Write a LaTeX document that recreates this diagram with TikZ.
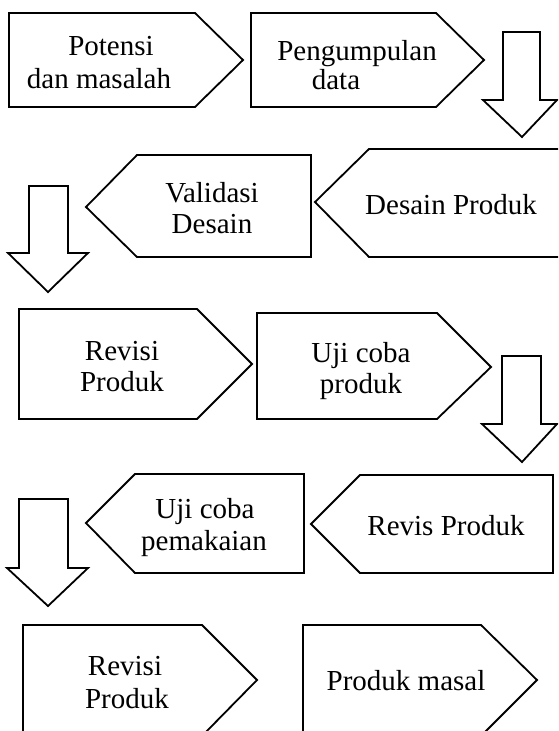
\documentclass[tikz,border=0pt]{standalone}
\usepackage{fontspec}
\setmainfont{Liberation Serif}
\begin{document}
\begin{tikzpicture}[x=1pt,y=-1pt,
  shapeline/.style={draw=black,line width=1.8pt,fill=white,line join=miter},
  lbl/.style={anchor=base,inner sep=0pt,font=\fontsize{29}{33}\selectfont}]
\useasboundingbox (0,0) rectangle (558,731);
\clip (0,0) rectangle (558,731);
% row 1
\draw[shapeline] (9,13) -- (195,13) -- (243,60) -- (195,107) -- (9,107) -- cycle;
\draw[shapeline] (251,13) -- (436,13) -- (484,60) -- (436,107) -- (251,107) -- cycle;
\draw[shapeline] (503,32) -- (540,32) -- (540,100) -- (557,100) -- (522,137) -- (483,100) -- (503,100) -- cycle;
% row 2
\draw[shapeline] (565,149) -- (369,149) -- (315,202) -- (369,257) -- (565,257);
\draw[shapeline] (311,155) -- (137,155) -- (86,207) -- (137,257) -- (311,257) -- cycle;
\draw[shapeline] (29,186) -- (68,186) -- (68,253) -- (88,253) -- (48,292) -- (8,253) -- (29,253) -- cycle;
% row 3
\draw[shapeline] (19,309) -- (197,309) -- (252,364) -- (197,419) -- (19,419) -- cycle;
\draw[shapeline] (257,313) -- (437,313) -- (491,367) -- (437,419) -- (257,419) -- cycle;
\draw[shapeline] (502,356) -- (541,356) -- (541,424) -- (557,424) -- (522,462) -- (482,424) -- (502,424) -- cycle;
% row 4
\draw[shapeline] (553,475) -- (360,475) -- (311,524) -- (360,573) -- (553,573) -- cycle;
\draw[shapeline] (304,474) -- (135,474) -- (86,523) -- (135,573) -- (304,573) -- cycle;
\draw[shapeline] (19,499) -- (68,499) -- (68,568) -- (88,568) -- (48,606) -- (7,568) -- (19,568) -- cycle;
% row 5
\draw[shapeline] (23,625) -- (202,625) -- (257,680) -- (202,736) -- (23,736) -- cycle;
\draw[shapeline] (303,625) -- (481,625) -- (537,680) -- (481,736) -- (303,736) -- cycle;
% texts
\node[lbl] (t1a) at (111,55) {Potensi};
\node[lbl] (t1b) at (99,88) {dan masalah};
\node[lbl] (t2a) at (357,60) {Pengumpulan};
\node[lbl] (t2b) at (336,89) {data};
\node[lbl] (t3) at (451,214) {Desain Produk};
\node[lbl] (t4a) at (212,202) {Validasi};
\node[lbl] (t4b) at (212,233) {Desain};
\node[lbl] (t5a) at (122,360) {Revisi};
\node[lbl] (t5b) at (122,391) {Produk};
\node[lbl] (t6a) at (361,362) {Uji coba};
\node[lbl] (t6b) at (361,393) {produk};
\node[lbl] (t7) at (446,535) {Revis Produk};
\node[lbl] (t8a) at (205,518) {Uji coba};
\node[lbl] (t8b) at (204,550) {pemakaian};
\node[lbl] (t9a) at (125,675) {Revisi};
\node[lbl] (t9b) at (127,708) {Produk};
\node[lbl] (t10) at (406,690) {Produk masal};
\end{tikzpicture}
\end{document}
